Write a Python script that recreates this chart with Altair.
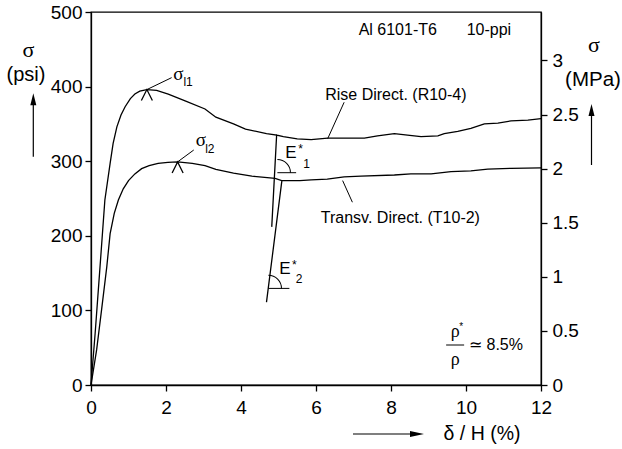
import altair as alt
import pandas as pd

# ---------------- data ----------------
rise_x = [0, 0.11, 0.24, 0.37, 0.51, 0.59, 0.69, 0.80, 0.91, 1.05, 1.17, 1.30, 1.49, 1.75, 2.06, 2.51,
          3.04, 3.33, 3.80, 4.12, 4.68, 4.95, 4.82, 4.95, 5.13, 5.50, 5.87, 6.31, 7.29, 7.64, 8.09,
          8.44, 8.80, 9.25, 9.42, 9.78, 10.13, 10.49, 10.85, 11.20, 11.65, 12.0]
rise_psi = [0, 69, 158, 248, 297, 324, 346, 362, 373, 384, 390, 394, 396, 395, 390, 381,
            370, 359, 350, 343, 337, 335, 212, 335, 333, 330, 329, 331, 331, 334, 337,
            335, 333, 334, 337, 340, 344, 350, 351, 354, 355, 357]

transv_x = [0, 0.15, 0.28, 0.42, 0.51, 0.62, 0.73, 0.86, 1.0, 1.17, 1.35, 1.55, 1.79, 2.05, 2.31,
            2.70, 3.04, 3.33, 3.80, 4.29, 4.91, 5.09, 4.68, 5.09, 5.57, 5.87, 6.30, 6.75, 7.20,
            8.09, 8.53, 9.07, 9.60, 10.13, 10.58, 11.20, 12.0]
transv_psi = [0, 47, 100, 158, 203, 230, 248, 263, 274, 283, 290, 294, 297, 298.5, 299,
              297, 294, 289, 284, 280, 277, 274, 111, 274, 274, 275, 276, 279, 280,
              281.5, 283, 283, 286, 287, 289.5, 290.5, 291]

x_ticks = [0, 2, 4, 6, 8, 10, 12]
psi_ticks = [0, 100, 200, 300, 400, 500]
mpa_ticks = [0, 0.5, 1, 1.5, 2, 2.5, 3]
PSI_PER_MPA = 145.038

peak_x = [1.49, 2.31]
peak_psi = [396, 299]

# sans-serif annotation texts (data coordinates)
sans_text = ["l1", "l2", "E", "*", "1", "E", "*", "2",
             "Rise Direct. (R10-4)", "Transv. Direct. (T10-2)",
             "Al 6101-T6", "10-ppi", "\u2243 8.5%", "*"]
sans_x = [2.59, 3.17, 5.33, 5.59, 5.75, 5.17, 5.42, 5.55,
          8.13, 8.25, 8.18, 10.61, 10.80, 9.87]
sans_psi = [406.6, 316, 310.6, 316, 295.8, 155.1, 160.9, 141.7,
            388.7, 224, 475.9, 475.9, 53.6, 78]
sans_size = [12, 12, 17, 12, 12, 17, 12, 12, 16, 16, 16, 16, 16, 10]

# serif symbols (data coordinates)
serif_text = ["\u03c3", "\u03c3", "\u03c1", "\u03c1"]
serif_x = [2.33, 2.93, 9.71, 9.71]
serif_psi = [416.9, 328.4, 71, 33.5]
serif_size = [19, 19, 18, 18]

# leader lines, angle base lines and fraction bar (data coordinates)
seg_x = [1.49, 2.28, 6.31, 6.71, 4.97, 4.73, 9.47]
seg_psi = [396, 298, 330, 274, 284.6, 129.5, 53.6]
seg_x2 = [2.15, 2.74, 6.75, 6.97, 5.47, 5.29, 9.95]
seg_psi2 = [412, 315, 379, 245, 284.6, 129.5, 53.6]

# angle arcs (centres, data coordinates)
arc_x = [4.97, 4.73]
arc_psi = [284.6, 129.5]

# ---------------- tables ----------------
curves = pd.concat([
    pd.DataFrame({"x": rise_x, "psi": rise_psi, "series": "Rise", "order": range(len(rise_x))}),
    pd.DataFrame({"x": transv_x, "psi": transv_psi, "series": "Transv", "order": range(len(transv_x))}),
])
peaks = pd.DataFrame({"x": peak_x, "psi": peak_psi})
sans_df = pd.DataFrame({"x": sans_x, "psi": sans_psi, "t": sans_text, "s": sans_size})
serif_df = pd.DataFrame({"x": serif_x, "psi": serif_psi, "t": serif_text, "s": serif_size})
seg_df = pd.DataFrame({"x": seg_x, "psi": seg_psi, "x2": seg_x2, "psi2": seg_psi2})
arc_df = pd.DataFrame({"x": arc_x, "psi": arc_psi})
mpa_df = pd.DataFrame({"mpa": mpa_ticks})
one = pd.DataFrame({"a": [0]})

xs = alt.Scale(domain=[0, 12], nice=False, zero=False)
ys = alt.Scale(domain=[0, 500], nice=False, zero=False)
FONT = "Liberation Sans"
SERIF = "Liberation Serif"

axis_common = dict(title=None, labelFontSize=19, labelFont=FONT, labelColor="black",
                   domainColor="black", tickColor="black", domainWidth=1.3, tickWidth=1.3,
                   tickSize=6, grid=False, labelFlush=False)

lines = alt.Chart(curves).mark_line(color="black", strokeWidth=1.3).encode(
    x=alt.X("x:Q", scale=xs, axis=alt.Axis(values=x_ticks, labelPadding=7, orient="bottom", **axis_common)),
    y=alt.Y("psi:Q", scale=ys, axis=alt.Axis(values=psi_ticks, labelPadding=3, orient="left", **axis_common)),
    detail="series:N",
    order="order:Q",
)

carets = alt.Chart(peaks).mark_point(
    shape="M -0.5 1 L 0 0 L 0.5 1", size=484, filled=False, color="black",
    strokeWidth=1.3, opacity=1
).encode(x=alt.X("x:Q", scale=xs, axis=None), y=alt.Y("psi:Q", scale=ys, axis=None))

segs = alt.Chart(seg_df).mark_rule(color="black", strokeWidth=1).encode(
    x=alt.X("x:Q", scale=xs, axis=None), x2="x2:Q",
    y=alt.Y("psi:Q", scale=ys, axis=None), y2="psi2:Q",
)

arcs = alt.Chart(arc_df).mark_arc(
    theta=0, theta2=1.5708, radius=13.6, radius2=12.6, color="black"
).encode(x=alt.X("x:Q", scale=xs, axis=None), y=alt.Y("psi:Q", scale=ys, axis=None))

sans = alt.Chart(sans_df).mark_text(font=FONT, color="black", baseline="middle", align="center").encode(
    x=alt.X("x:Q", scale=xs, axis=None), y=alt.Y("psi:Q", scale=ys, axis=None),
    text="t:N", size=alt.Size("s:Q", scale=None, legend=None),
)

serif = alt.Chart(serif_df).mark_text(font=SERIF, color="black", baseline="middle", align="center").encode(
    x=alt.X("x:Q", scale=xs, axis=None), y=alt.Y("psi:Q", scale=ys, axis=None),
    text="t:N", size=alt.Size("s:Q", scale=None, legend=None),
)


# ---- axis titles and arrows outside the plot area (pixel positions) ----
def label(txt, px, py, font=FONT, fs=19):
    return alt.Chart(one).mark_text(text=txt, font=font, fontSize=fs, color="black",
                                    baseline="middle", align="center").encode(
        x=alt.value(px), y=alt.value(py))


def rule(px, py, px2, py2):
    return alt.Chart(one).mark_rule(color="black", strokeWidth=1.2).encode(
        x=alt.value(px), y=alt.value(py), x2=alt.value(px2), y2=alt.value(py2))


def head(px, py, shape, size):
    return alt.Chart(one).mark_point(shape=shape, size=size, filled=True, color="black",
                                     opacity=1).encode(x=alt.value(px), y=alt.value(py))


UP = "M 0 0 L 0.25 1 L -0.25 1 Z"
RIGHT = "M 0 0 L -1 -0.22 L -1 0.22 Z"

outside = [
    label("\u03c3", -62.7, 38, SERIF, 22),
    label("(psi)", -65, 63, FONT, 20),
    rule(-57.7, 144.7, -57.7, 91),
    head(-57.7, 81.3, UP, 576),
    label("\u03c3", 503, 33, SERIF, 22),
    label("(MPa)", 502, 68, FONT, 20.5),
    rule(500.5, 153, 500.5, 103),
    head(500.5, 92, UP, 576),
    label("\u03b4 / H (%)", 391, 422, FONT, 19.5),
    rule(262, 422, 320, 422),
    head(333, 422, RIGHT, 784),
]

mpa_layer = alt.Chart(mpa_df).mark_point(opacity=0).encode(
    x=alt.value(0),
    y=alt.Y("mpa:Q", scale=alt.Scale(domain=[0, 500 / PSI_PER_MPA], nice=False, zero=False),
            axis=alt.Axis(orient="right", values=mpa_ticks, format="~g", labelPadding=5, **axis_common)),
)

chart = alt.layer(lines, carets, segs, arcs, sans, serif, *outside, mpa_layer).resolve_scale(
    y="independent"
).resolve_axis(
    x="independent", y="independent"
).properties(
    width=450, height=373,
    padding={"left": 91, "top": 12, "right": 81, "bottom": 64},
    autosize=alt.AutoSizeParams(type="none"),
    background="white",
).configure_view(stroke="black", strokeWidth=1.3)

chart.save("out.html", embed_options={"renderer": "svg", "actions": False})
